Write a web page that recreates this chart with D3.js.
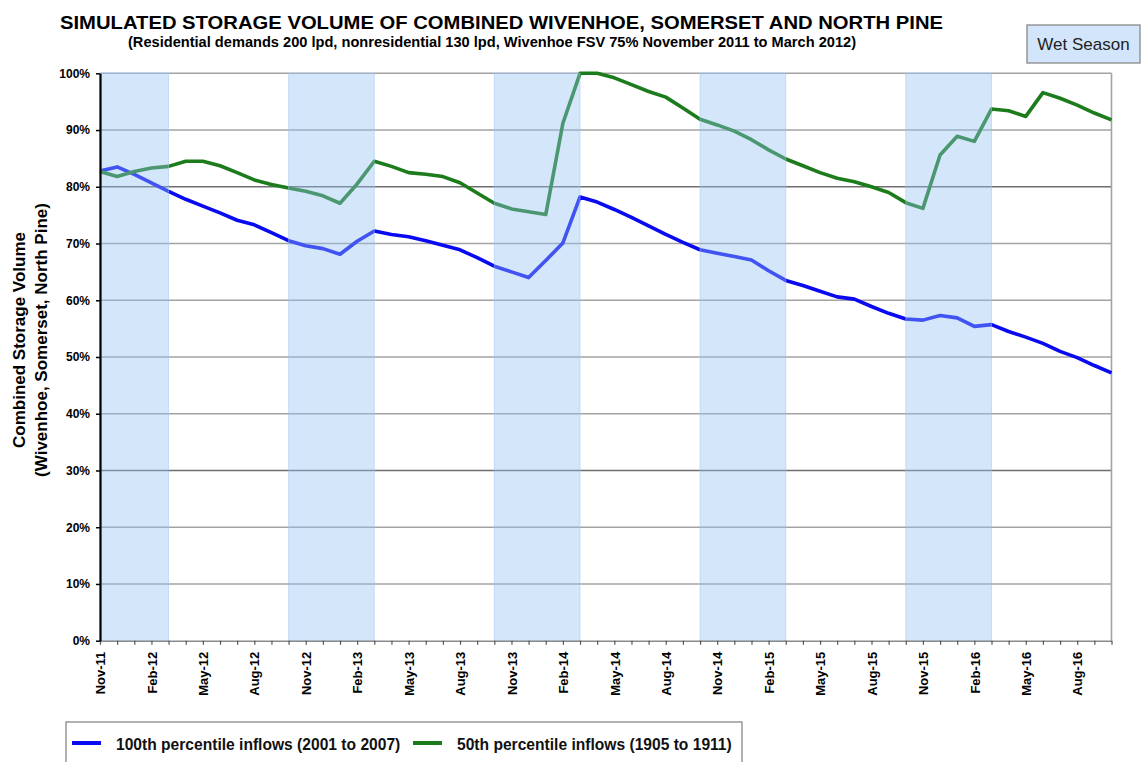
<!DOCTYPE html>
<html>
<head>
<meta charset="utf-8">
<script src="https://cdn.jsdelivr.net/npm/d3@7"></script>
<style>
  body { margin: 0; background: #fff; }
  text { font-family: Arial, "Liberation Sans", sans-serif; }
</style>
</head>
<body>
<div id="d3-container"></div>
<script>
// months Nov-11 .. Oct-16
const months = d3.timeMonth.range(new Date(2011, 10, 1), new Date(2016, 10, 1)).map(d3.timeFormat("%b-%y"));

const pct100 = [82.8, 83.5, 82.2, 80.7, 79.2, 77.8, 76.6, 75.4, 74.1, 73.3, 71.9, 70.5,
  69.6, 69.1, 68.1, 70.4, 72.2, 71.6, 71.2, 70.5, 69.7, 68.9, 67.5, 66.0,
  65.0, 64.0, 67.0, 70.1, 78.2, 77.3, 76.0, 74.6, 73.1, 71.6, 70.2, 68.9,
  68.3, 67.7, 67.1, 65.2, 63.5, 62.6, 61.6, 60.6, 60.2, 58.9, 57.7, 56.7,
  56.5, 57.3, 56.9, 55.4, 55.7, 54.5, 53.5, 52.4, 51.0, 49.9, 48.5, 47.2];

const pct50 = [82.7, 81.8, 82.7, 83.3, 83.6, 84.5, 84.5, 83.7, 82.5, 81.2, 80.4, 79.8,
  79.2, 78.4, 77.1, 80.5, 84.5, 83.6, 82.5, 82.2, 81.8, 80.7, 78.9, 77.1,
  76.1, 75.6, 75.1, 91.2, 100, 100, 99.2, 98.0, 96.8, 95.8, 93.9, 91.9,
  90.9, 89.8, 88.3, 86.5, 84.9, 83.7, 82.5, 81.5, 80.9, 80.0, 79.0, 77.2,
  76.2, 85.6, 88.9, 88.0, 93.7, 93.4, 92.4, 96.6, 95.6, 94.4, 93.0, 91.8];

const wetSeasons = [["Nov-11", "Mar-12"], ["Oct-12", "Mar-13"], ["Oct-13", "Mar-14"],
  ["Oct-14", "Mar-15"], ["Oct-15", "Mar-16"]];

const yTicks = [0, 10, 20, 30, 40, 50, 60, 70, 80, 90, 100];

const seriesNames = ["100th percentile inflows (2001 to 2007)", "50th percentile inflows (1905 to 1911)"];
const colors = ["#0a0af0", "#1c7c1c"];

const width = 1142;
const height = 762;
const margin = { top: 73.3, right: 30.5, bottom: 121.3, left: 100 };

const xScale = d3.scaleLinear()
    .domain([0, months.length - 1])
    .range([margin.left, width - margin.right]);

const yScale = d3.scaleLinear()
    .domain([0, 100])
    .range([height - margin.bottom, margin.top]);

const svg = d3.select("#d3-container")
    .append("svg")
    .attr("width", width)
    .attr("height", height);

// title
svg.append("text")
    .attr("x", 60).attr("y", 28.5)
    .attr("font-size", 19).attr("font-weight", "bold")
    .attr("textLength", 883).attr("lengthAdjust", "spacingAndGlyphs")
    .text("SIMULATED STORAGE VOLUME OF COMBINED WIVENHOE, SOMERSET AND NORTH PINE");

svg.append("text")
    .attr("x", 128).attr("y", 46.7)
    .attr("font-size", 14).attr("font-weight", "bold")
    .attr("textLength", 728).attr("lengthAdjust", "spacingAndGlyphs")
    .text("(Residential demands 200 lpd, nonresidential 130 lpd, Wivenhoe FSV 75% November 2011 to March 2012)");

// gridlines
svg.append("g")
    .selectAll("line")
    .data(yTicks.filter(d => d > 0))
    .join("line")
    .attr("x1", xScale.range()[0])
    .attr("x2", xScale.range()[1])
    .attr("y1", d => yScale(d))
    .attr("y2", d => yScale(d))
    .attr("stroke", d => (d === 80 || d === 30) ? "#6e6e6e" : "#a3a3a3")
    .attr("stroke-width", 1.6);

svg.append("line")
    .attr("x1", xScale.range()[1]).attr("x2", xScale.range()[1])
    .attr("y1", yScale(0)).attr("y2", yScale(100))
    .attr("stroke", "#a3a3a3").attr("stroke-width", 1.6);

// series lines
const line = d3.line()
    .x((d, i) => xScale(i))
    .y(d => yScale(d));

svg.append("g")
    .selectAll("path")
    .data([pct100, pct50])
    .join("path")
    .attr("d", line)
    .attr("fill", "none")
    .attr("stroke", (d, i) => colors[i])
    .attr("stroke-width", 3.6)
    .attr("stroke-linejoin", "round");

// wet season bands sit over the lines
svg.append("g")
    .selectAll("rect")
    .data(wetSeasons)
    .join("rect")
    .attr("x", d => xScale(months.indexOf(d[0])))
    .attr("width", d => xScale(months.indexOf(d[1])) - xScale(months.indexOf(d[0])))
    .attr("y", yScale(100))
    .attr("height", yScale(0) - yScale(100))
    .attr("fill", "rgb(148,193,243)")
    .attr("fill-opacity", 0.4)
    .attr("stroke", "#9fc4ee")
    .attr("stroke-dasharray", "1,1")
    .attr("stroke-width", 1);

// x axis
const xAxis = svg.append("g")
    .attr("transform", `translate(0,${yScale(0)})`)
    .call(d3.axisBottom(xScale)
        .tickValues(d3.range(months.length))
        .tickSize(4)
        .tickSizeOuter(0)
        .tickFormat(i => i % 3 === 0 ? months[i] : ""));

xAxis.select(".domain").attr("stroke", "#8a8a8a").attr("stroke-width", 1.6);
xAxis.selectAll(".tick line").attr("stroke", "#555").attr("stroke-width", 1.2);
xAxis.selectAll("text")
    .attr("font-size", 13)
    .attr("font-weight", "bold")
    .attr("fill", "#000")
    .attr("text-anchor", "end")
    .attr("transform", "rotate(-90)")
    .attr("x", -11)
    .attr("y", 0)
    .attr("dy", "0.36em");

// y axis
const yAxis = svg.append("g")
    .attr("transform", `translate(${margin.left},0)`)
    .call(d3.axisLeft(yScale)
        .tickValues(yTicks)
        .tickSize(4)
        .tickSizeOuter(0)
        .tickFormat(d => d + "%"));

yAxis.select(".domain").attr("stroke", "#000").attr("stroke-width", 2.2);
yAxis.selectAll(".tick line").attr("stroke", "#000").attr("stroke-width", 1.5);
yAxis.selectAll("text")
    .attr("font-size", 12)
    .attr("font-weight", "bold")
    .attr("fill", "#000")
    .attr("x", -10);

// y axis title
const yTitle = svg.append("g")
    .attr("transform", "translate(0,340) rotate(-90)");

yTitle.append("text")
    .attr("x", 0).attr("y", 25)
    .attr("text-anchor", "middle")
    .attr("font-size", 17).attr("font-weight", "bold")
    .text("Combined Storage Volume");

yTitle.append("text")
    .attr("x", 0).attr("y", 47)
    .attr("text-anchor", "middle")
    .attr("font-size", 17).attr("font-weight", "bold")
    .text("(Wivenhoe, Somerset, North Pine)");

// wet season legend
svg.append("rect")
    .attr("x", 1027).attr("y", 25)
    .attr("width", 113).attr("height", 38)
    .attr("fill", "#d2e5fa")
    .attr("stroke", "#7f7f7f")
    .attr("stroke-width", 1.2);

svg.append("text")
    .attr("x", 1083.5).attr("y", 49.5)
    .attr("text-anchor", "middle")
    .attr("font-size", 17)
    .attr("fill", "#222")
    .text("Wet Season");

// series legend
svg.append("rect")
    .attr("x", 66).attr("y", 722)
    .attr("width", 676).attr("height", 60)
    .attr("fill", "#fff")
    .attr("stroke", "#7f7f7f")
    .attr("stroke-width", 1.2);

const legendX = [72, 413];
const legend = svg.append("g")
    .selectAll("g")
    .data(seriesNames)
    .join("g")
    .attr("transform", (d, i) => `translate(${legendX[i]},743)`);

legend.append("line")
    .attr("x1", 0).attr("x2", 29)
    .attr("stroke", (d, i) => colors[i])
    .attr("stroke-width", 4);

legend.append("text")
    .attr("x", 44).attr("y", 6.5)
    .attr("font-size", 15.6)
    .attr("font-weight", "bold")
    .attr("fill", "#111")
    .text(d => d);
</script>
</body>
</html>
